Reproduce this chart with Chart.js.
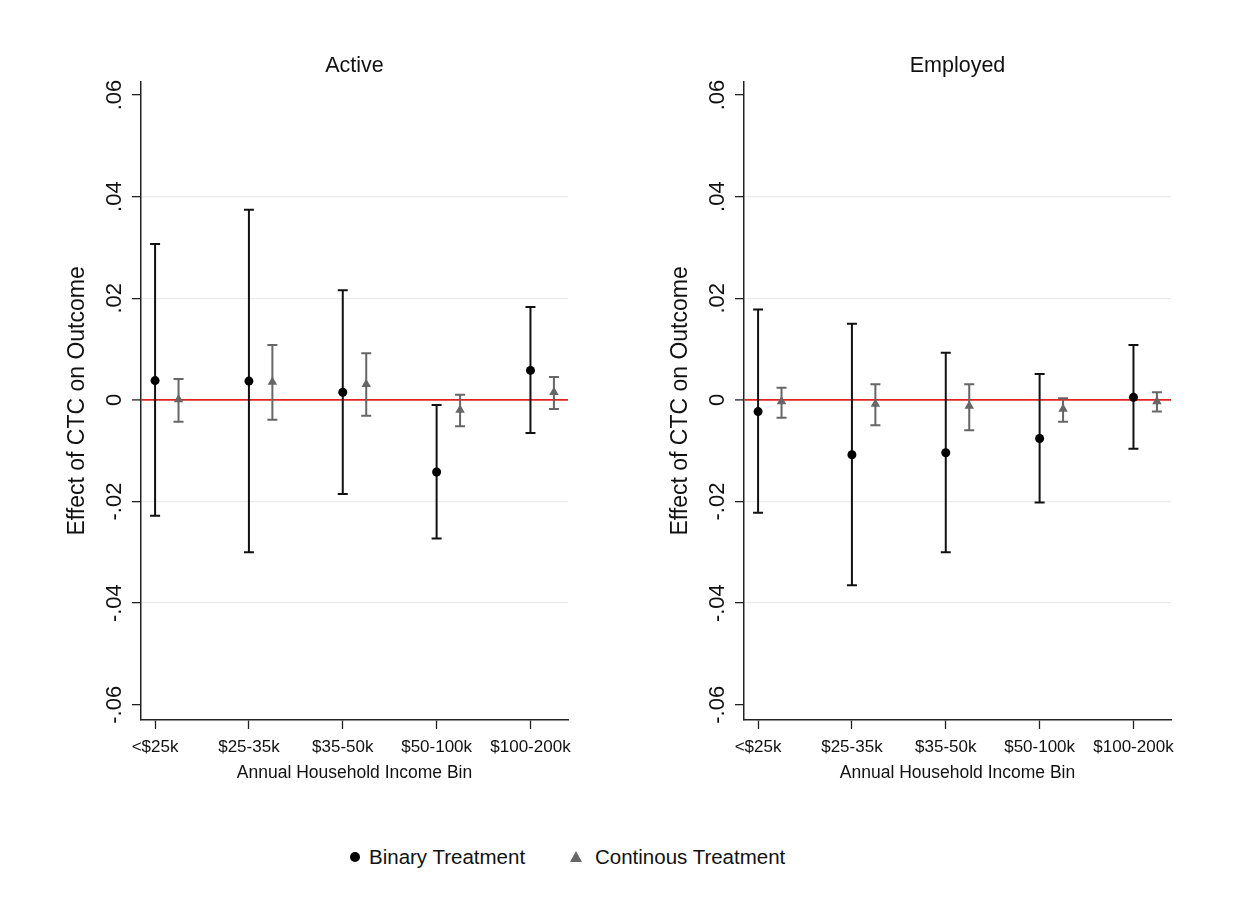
<!DOCTYPE html>
<html>
<head>
<meta charset="utf-8">
<script src="https://cdn.jsdelivr.net/npm/chart.js@4"></script>
<style>
  body { margin: 0; background: #fff; font-family: "Liberation Sans", Arial, sans-serif; }
  #wrap { position: relative; width: 1247px; height: 909px; overflow: hidden; }
  #wrap canvas { position: absolute; top: 0; }
  .leg { position: absolute; top: 845px; font-size: 20.5px; line-height: 24px; color: #111; white-space: nowrap; }
  .dot { position: absolute; top: 852px; left: 350px; width: 10px; height: 10px; border-radius: 50%; background: #000; }
  .tri { position: absolute; top: 851px; left: 570px; width: 0; height: 0;
         border-left: 6.5px solid transparent; border-right: 6.5px solid transparent; border-bottom: 11px solid #666; }
</style>
</head>
<body>
<div id="wrap">
  <canvas id="activeChart" width="620" height="800" style="left:0"></canvas>
  <canvas id="employedChart" width="620" height="800" style="left:603px"></canvas>
  <span class="dot"></span><span class="leg" style="left:369px">Binary Treatment</span>
  <span class="tri"></span><span class="leg" style="left:595px">Continous Treatment</span>
</div>
<script>
// --- DATOS ---
const INCOME_BINS = ['<$25k', '$25-35k', '$35-50k', '$50-100k', '$100-200k'];
const Y_TICKS = [-0.06, -0.04, -0.02, 0, 0.02, 0.04, 0.06];
const CONT_SHIFT = 0.25; // continuous estimate sits just right of the binary one

const ACTIVE_BIN_EST = [0.0038, 0.0037, 0.0015, -0.0142, 0.0058];
const ACTIVE_BIN_LO  = [-0.0228, -0.0300, -0.0185, -0.0273, -0.0065];
const ACTIVE_BIN_HI  = [0.0307, 0.0374, 0.0216, -0.0010, 0.0183];
const ACTIVE_CONT_EST = [0.0001, 0.0035, 0.0031, -0.0020, 0.0015];
const ACTIVE_CONT_LO  = [-0.0043, -0.0039, -0.0031, -0.0052, -0.0018];
const ACTIVE_CONT_HI  = [0.0041, 0.0108, 0.0092, 0.0010, 0.0045];

const EMPLOYED_BIN_EST = [-0.0023, -0.0108, -0.0104, -0.0076, 0.0005];
const EMPLOYED_BIN_LO  = [-0.0222, -0.0365, -0.0300, -0.0202, -0.0096];
const EMPLOYED_BIN_HI  = [0.0178, 0.0150, 0.0093, 0.0051, 0.0108];
const EMPLOYED_CONT_EST = [-0.0003, -0.0008, -0.0012, -0.0018, -0.0003];
const EMPLOYED_CONT_LO  = [-0.0035, -0.0050, -0.0060, -0.0043, -0.0023];
const EMPLOYED_CONT_HI  = [0.0024, 0.0031, 0.0031, 0.0003, 0.0015];

const FONT = '"Liberation Sans", Arial, sans-serif';

// stata style labels: .02, -.04, 0
function fmtTick(v) {
  if (Math.abs(v) < 1e-9) return '0';
  return (v < 0 ? '-' : '') + Math.abs(v).toFixed(2).replace(/^0/, '');
}

// --- PLUGIN: barras de error + etiquetas del eje y rotadas ---
const errorBars = {
  id: 'errorBars',
  beforeDatasetsDraw(chart) {
    const ctx = chart.ctx;
    const y = chart.scales.y;
    chart.data.datasets.forEach((ds, i) => {
      const meta = chart.getDatasetMeta(i);
      ctx.save();
      ctx.strokeStyle = ds.barColor;
      ctx.lineWidth = 2;
      meta.data.forEach((pt, j) => {
        const top = y.getPixelForValue(ds.hi[j]);
        const bot = y.getPixelForValue(ds.lo[j]);
        ctx.beginPath();
        ctx.moveTo(pt.x, top); ctx.lineTo(pt.x, bot);
        ctx.moveTo(pt.x - 5, top); ctx.lineTo(pt.x + 5, top);
        ctx.moveTo(pt.x - 5, bot); ctx.lineTo(pt.x + 5, bot);
        ctx.stroke();
      });
      ctx.restore();
    });
  },
  afterDraw(chart) {
    const ctx = chart.ctx;
    const y = chart.scales.y;
    ctx.save();
    ctx.font = '22px ' + FONT;
    ctx.fillStyle = '#111';
    ctx.textAlign = 'center';
    ctx.textBaseline = 'middle';
    Y_TICKS.forEach(v => {
      ctx.save();
      ctx.translate(y.right - 26, y.getPixelForValue(v));
      ctx.rotate(-Math.PI / 2);
      ctx.fillText(fmtTick(v), 0, 0);
      ctx.restore();
    });
    ctx.restore();
  }
};

function makePanel(canvasId, title, binEst, binLo, binHi, contEst, contLo, contHi) {
  const ctx = document.getElementById(canvasId).getContext('2d');
  return new Chart(ctx, {
    type: 'scatter',
    data: {
      datasets: [
        {
          label: 'Binary Treatment',
          data: binEst.map((v, i) => ({ x: i + 1, y: v })),
          lo: binLo, hi: binHi, barColor: '#111',
          pointStyle: 'circle', pointRadius: 4.5,
          backgroundColor: '#000', borderWidth: 0
        },
        {
          label: 'Continous Treatment',
          data: contEst.map((v, i) => ({ x: i + 1 + CONT_SHIFT, y: v })),
          lo: contLo, hi: contHi, barColor: '#666',
          pointStyle: 'triangle', pointRadius: 5.5,
          backgroundColor: '#666', borderWidth: 0
        }
      ]
    },
    options: {
      responsive: false,
      animation: false,
      layout: { padding: { top: 40, right: 52, bottom: 0, left: 0 } },
      plugins: {
        legend: { display: false },
        tooltip: { enabled: false },
        title: {
          display: true, text: title, fullSize: false, color: '#111',
          font: { family: FONT, size: 21.5, weight: 'normal' },
          padding: { top: 13, bottom: 3 }
        }
      },
      scales: {
        x: {
          type: 'linear', min: 0.85, max: 5.4,
          afterBuildTicks: s => { s.ticks = INCOME_BINS.map((_, i) => ({ value: i + 1 })); },
          afterFit: s => { s.height = 80; },
          ticks: {
            autoSkip: false, maxRotation: 0, padding: 8, color: '#111',
            font: { family: FONT, size: 17 },
            callback: v => INCOME_BINS[v - 1]
          },
          grid: { color: 'rgba(0,0,0,0)', tickColor: '#222', tickLength: 9, tickWidth: 1.3 },
          border: { color: '#222', width: 1.5 },
          title: {
            display: true, text: 'Annual Household Income Bin', color: '#111',
            font: { family: FONT, size: 17.5 }, padding: { top: 0, bottom: 16 }
          }
        },
        y: {
          min: -0.063, max: 0.0626,
          afterBuildTicks: s => { s.ticks = Y_TICKS.map(v => ({ value: v })); },
          afterFit: s => { s.width = 141; },
          ticks: { display: false },
          grid: {
            color: c => Math.abs(c.tick.value) < 1e-9 ? '#e3231f'
              : (Math.abs(c.tick.value) < 0.05 ? '#ebebeb' : 'rgba(0,0,0,0)'),
            lineWidth: c => Math.abs(c.tick.value) < 1e-9 ? 1.8 : 1.3,
            tickColor: '#222', tickLength: 9, tickWidth: 1.3
          },
          border: { color: '#222', width: 1.5 },
          title: {
            display: true, text: 'Effect of CTC on Outcome', color: '#111',
            font: { family: FONT, size: 23 }, padding: { top: 64, bottom: 0 }
          }
        }
      }
    },
    plugins: [errorBars]
  });
}

makePanel('activeChart', 'Active',
  ACTIVE_BIN_EST, ACTIVE_BIN_LO, ACTIVE_BIN_HI, ACTIVE_CONT_EST, ACTIVE_CONT_LO, ACTIVE_CONT_HI);
makePanel('employedChart', 'Employed',
  EMPLOYED_BIN_EST, EMPLOYED_BIN_LO, EMPLOYED_BIN_HI, EMPLOYED_CONT_EST, EMPLOYED_CONT_LO, EMPLOYED_CONT_HI);
</script>
</body>
</html>
